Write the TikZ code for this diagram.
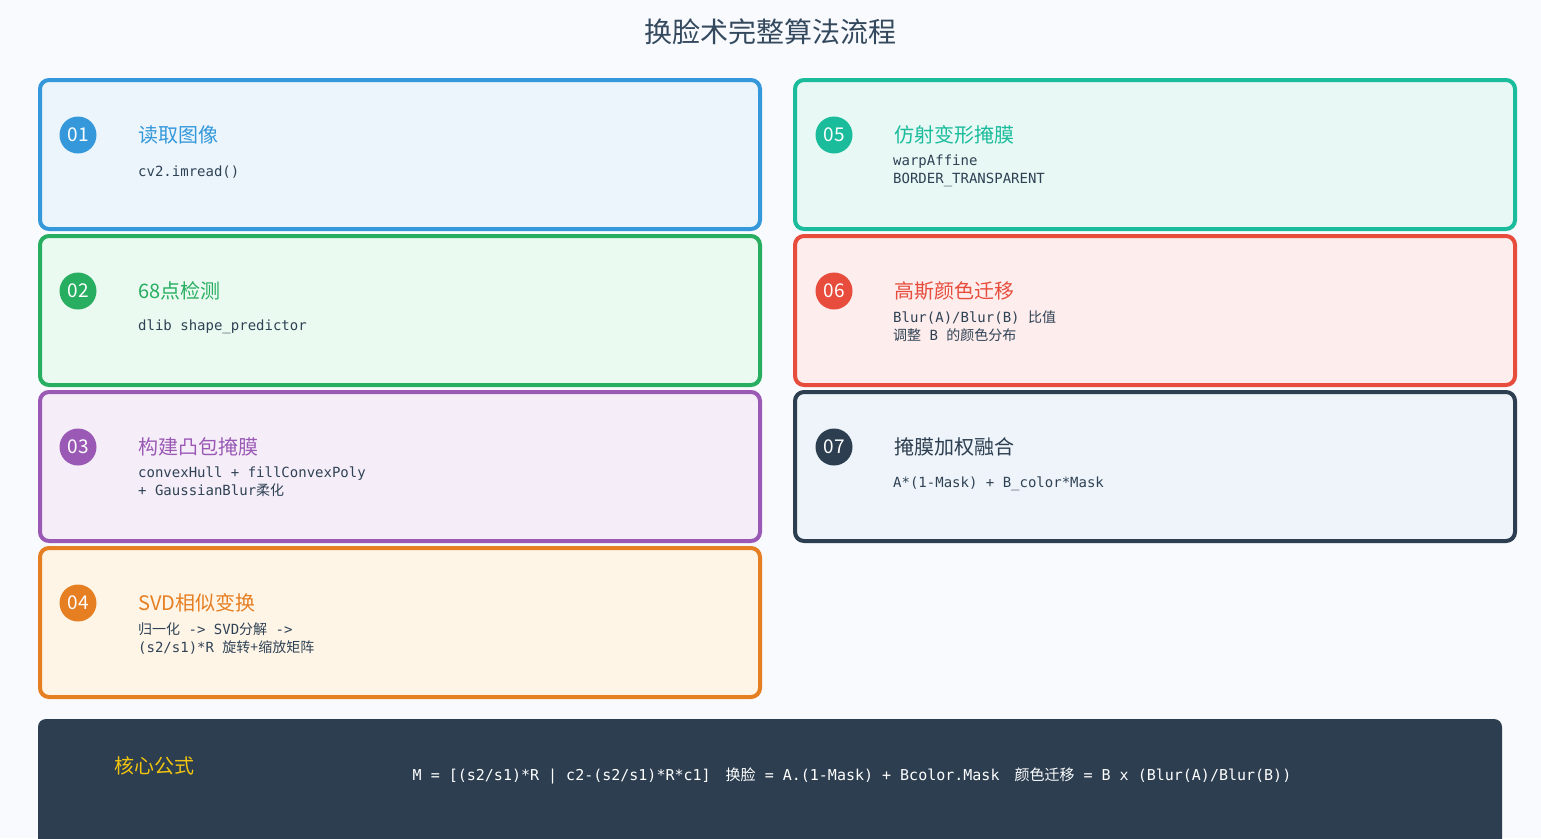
\documentclass[tikz,border=0pt]{standalone}
\usepackage{fontspec}
\setmainfont{Noto Sans CJK SC}
\newfontfamily\cjk{Noto Sans CJK SC}
\newfontfamily\mono{DejaVu Sans Mono}
\definecolor{bg}{HTML}{F8FAFD}
\definecolor{cb}{HTML}{3498DB}\definecolor{fb}{HTML}{EBF5FB}
\definecolor{cg}{HTML}{27AE60}\definecolor{fg}{HTML}{EAFAF1}
\definecolor{cp}{HTML}{9B59B6}\definecolor{fp}{HTML}{F5EEF8}
\definecolor{co}{HTML}{E67E22}\definecolor{fo}{HTML}{FEF5E7}
\definecolor{ct}{HTML}{1ABC9C}\definecolor{ft}{HTML}{E8F8F5}
\definecolor{cr}{HTML}{E74C3C}\definecolor{fr}{HTML}{FDEDEC}
\definecolor{cd}{HTML}{2C3E50}\definecolor{fd}{HTML}{EEF4F9}
\definecolor{ttl}{HTML}{34495E}
\definecolor{gold}{HTML}{F1C40F}
\tikzset{
 card/.style={draw=#1,line width=4pt,rounded corners=9pt,minimum width=720pt,minimum height=149pt,anchor=north west},
 num/.style={circle,fill=#1,text=white,minimum size=37pt,inner sep=0pt,font=\fontsize{19}{19}\selectfont},
 head/.style={anchor=west,text=#1,font=\fontsize{20}{20}\selectfont,inner sep=0pt},
 sub/.style={anchor=north west,align=left,text=ttl!90!black,font=\mono\fontsize{14}{18}\selectfont,inner sep=0pt},
}
\begin{document}
\begin{tikzpicture}[x=1pt,y=-1pt]
\fill[bg] (0,0) rectangle (1541,838);
\useasboundingbox (0,0) rectangle (1541,838);
\node[text=ttl,font=\fontsize{28}{28}\selectfont] (title) at (770,32) {换脸术完整算法流程};
% left
\node[card=cb,fill=fb] (b1) at (38,78) {};
\node[num=cb] (n1) at (78,135) {01};
\node[head=cb] (h1) at (138,135) {读取图像};
\node[sub] (s1) at (138,166) {cv2.imread()};
\node[card=cg,fill=fg] (b2) at (38,234) {};
\node[num=cg] (n2) at (78,291) {02};
\node[head=cg] (h2) at (138,291) {68点检测};
\node[sub] (s2) at (138,320) {dlib shape\_predictor};
\node[card=cp,fill=fp] (b3) at (38,390) {};
\node[num=cp] (n3) at (78,447) {03};
\node[head=cp] (h3) at (138,447) {构建凸包掩膜};
\node[sub] (s3) at (138,467) {convexHull + fillConvexPoly\\+ GaussianBlur{\cjk 柔化}};
\node[card=co,fill=fo] (b4) at (38,546) {};
\node[num=co] (n4) at (78,603) {04};
\node[head=co] (h4) at (138,603) {SVD相似变换};
\node[sub] (s4) at (138,623) {{\cjk 归一化} -> SVD{\cjk 分解} ->\\(s2/s1)*R {\cjk 旋转+缩放矩阵}};
% right
\node[card=ct,fill=ft] (b5) at (793,78) {};
\node[num=ct] (n5) at (834,135) {05};
\node[head=ct] (h5) at (894,135) {仿射变形掩膜};
\node[sub] (s5) at (893,155) {warpAffine\\BORDER\_TRANSPARENT};
\node[card=cr,fill=fr] (b6) at (793,234) {};
\node[num=cr] (n6) at (834,291) {06};
\node[head=cr] (h6) at (894,291) {高斯颜色迁移};
\node[sub] (s6) at (893,311) {Blur(A)/Blur(B) {\cjk 比值}\\{\cjk 调整} B {\cjk 的颜色分布}};
\node[card=cd,fill=fd] (b7) at (793,390) {};
\node[num=cd] (n7) at (834,447) {07};
\node[head=cd] (h7) at (894,447) {掩膜加权融合};
\node[sub] (s7) at (893,477) {A*(1-Mask) + B\_color*Mask};
% bottom
\fill[cd,rounded corners=8pt] (38,719) rectangle (1502,850);
\node[text=gold,font=\fontsize{20}{20}\selectfont] (k) at (154,766) {核心公式};
\node[text=white,font=\mono\fontsize{15}{15}\selectfont] (f) at (852,776) {M = [(s2/s1)*R | c2-(s2/s1)*R*c1]\quad {\cjk 换脸} = A.(1-Mask) + Bcolor.Mask\quad {\cjk 颜色迁移} = B x (Blur(A)/Blur(B))};
\end{tikzpicture}
\end{document}
